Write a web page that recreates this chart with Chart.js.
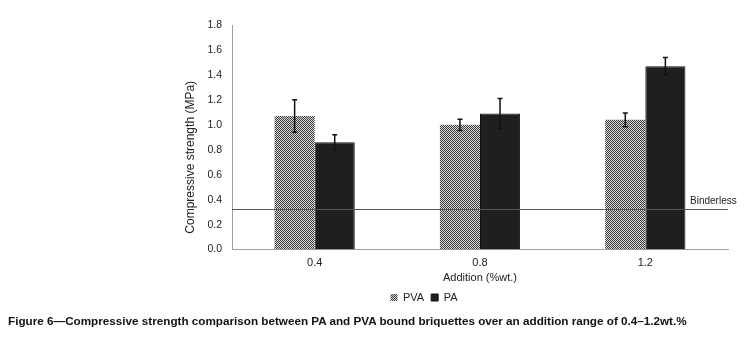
<!DOCTYPE html>
<html>
<head>
<meta charset="utf-8">
<script src="https://cdn.jsdelivr.net/npm/chart.js@4/dist/chart.umd.min.js"></script>
<style>
  html,body{margin:0;padding:0;background:#fff;}
  #wrap{position:relative;width:747px;height:339px;overflow:hidden;}
  #cap{position:absolute;left:8px;top:314px;font:bold 11.7px "Liberation Sans",Arial,sans-serif;color:#111;white-space:nowrap;}
</style>
</head>
<body>
<div id="wrap">
  <canvas id="c" width="747" height="339"></canvas>
  <div id="cap">Figure 6—Compressive strength comparison between PA and PVA bound briquettes over an addition range of 0.4–1.2wt.%</div>
</div>
<script>
const categories = ['0.4', '0.8', '1.2'];
const pvaValues = [1.07, 1.00, 1.04];
const pvaErrors = [0.13, 0.045, 0.055];
const paValues = [0.86, 1.09, 1.47];
const paErrors = [0.06, 0.12, 0.07];
const binderless = 0.32;
const yTicks = [0, 0.2, 0.4, 0.6, 0.8, 1.0, 1.2, 1.4, 1.6, 1.8];

function checker(){
  const p=document.createElement('canvas'); p.width=2; p.height=2;
  const g=p.getContext('2d');
  g.fillStyle='#d9d9d9'; g.fillRect(0,0,2,2);
  g.fillStyle='#3c3c3c'; g.fillRect(0,0,1,1); g.fillRect(1,1,1,1);
  return document.getElementById('c').getContext('2d').createPattern(p,'repeat');
}
const pvaFill = checker();

const errorBars = {
  id:'errorBars',
  afterDatasetsDraw(chart){
    const ctx=chart.ctx, y=chart.scales.y;
    const errs=[pvaErrors, paErrors];
    ctx.save(); ctx.strokeStyle='#111'; ctx.lineWidth=1.5;
    chart.data.datasets.forEach((ds,i)=>{
      chart.getDatasetMeta(i).data.forEach((bar,j)=>{
        const v=ds.data[j], e=errs[i][j];
        const top=y.getPixelForValue(v+e), bot=y.getPixelForValue(v-e), x=bar.x;
        ctx.beginPath();
        ctx.moveTo(x,top); ctx.lineTo(x,bot);
        ctx.moveTo(x-2.5,top); ctx.lineTo(x+2.5,top);
        ctx.moveTo(x-2.5,bot); ctx.lineTo(x+2.5,bot);
        ctx.stroke();
      });
    });
    ctx.restore();
  }
};

const binderLine = {
  id:'binderLine',
  afterDatasetsDraw(chart){
    const ctx=chart.ctx, a=chart.chartArea, py=Math.round(chart.scales.y.getPixelForValue(binderless))-0.5;
    ctx.save();
    ctx.strokeStyle='#555'; ctx.lineWidth=1;
    ctx.beginPath(); ctx.moveTo(a.left,py); ctx.lineTo(a.right,py); ctx.stroke();
    ctx.fillStyle='#222'; ctx.font='10px "Liberation Sans", Arial, sans-serif';
    ctx.textAlign='left'; ctx.textBaseline='middle';
    ctx.fillText('Binderless', a.right-38, py-8);
    ctx.restore();
  }
};

new Chart(document.getElementById('c'), {
  type:'bar',
  data:{
    labels:categories,
    datasets:[
      {label:'PVA', data:pvaValues, backgroundColor:pvaFill, borderColor:'#9a9a9a', borderWidth:0},
      {label:'PA', data:paValues, backgroundColor:'#1f1f1f', borderColor:'#111', borderWidth:1}
    ]
  },
  options:{
    responsive:false, animation:false,
    layout:{padding:{left:120, right:19, top:25, bottom:26}},
    datasets:{bar:{categoryPercentage:0.485, barPercentage:1}},
    plugins:{
      legend:{position:'bottom', labels:{boxWidth:7, boxHeight:7, padding:7, color:'#222', font:{family:'"Liberation Sans", Arial, sans-serif', size:11}}},
      tooltip:{enabled:false}
    },
    scales:{
      x:{
        grid:{display:false, drawTicks:false},
        border:{color:'#a0a0a0', width:1},
        ticks:{color:'#222', padding:7, font:{family:'"Liberation Sans", Arial, sans-serif', size:11}},
        title:{display:true, text:'Addition (%wt.)', color:'#222', padding:{top:-5, bottom:0}, font:{family:'"Liberation Sans", Arial, sans-serif', size:11}}
      },
      y:{
        min:0, max:1.8,
        afterFit(s){ s.width=112; },
        afterBuildTicks(s){ s.ticks = yTicks.map(v=>({value:v})); },
        grid:{display:false, drawTicks:false},
        border:{color:'#a0a0a0', width:1},
        ticks:{color:'#222', padding:10, font:{family:'"Liberation Sans", Arial, sans-serif', size:10.5}, callback:v=>Number(v).toFixed(1)},
        title:{display:true, text:'Compressive strength (MPa)' + '\u00a0'.repeat(12), color:'#222', padding:{top:63, bottom:4}, font:{family:'"Liberation Sans", Arial, sans-serif', size:12}}
      }
    }
  },
  plugins:[errorBars, binderLine]
});
</script>
</body>
</html>
